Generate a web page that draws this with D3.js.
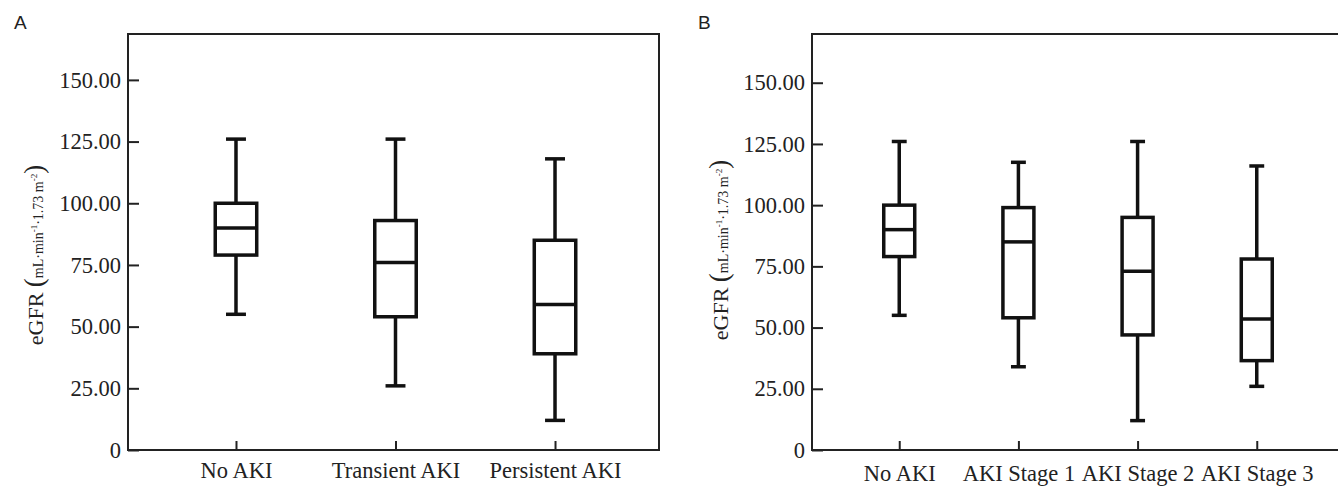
<!DOCTYPE html>
<html>
<head>
<meta charset="utf-8">
<script src="https://cdn.jsdelivr.net/npm/d3@7"></script>
<style>
  html, body { margin: 0; padding: 0; background: #fff; }
  svg { display: block; }
  .serif text, text.serif { font-family: "Liberation Serif", "Times New Roman", serif; }
</style>
</head>
<body>
<div id="chart"></div>
<script>
// eGFR box plots, panel A (AKI type) and panel B (AKI stage)
const yTicks = [0, 25, 50, 75, 100, 125, 150];

const catsA = ['No AKI', 'Transient AKI', 'Persistent AKI'];
const minA = [55, 26, 12];
const q1A = [79, 54, 39];
const medA = [90, 76, 59];
const q3A = [100, 93, 85];
const maxA = [126, 126, 118];

const catsB = ['No AKI', 'AKI Stage 1', 'AKI Stage 2', 'AKI Stage 3'];
const minB = [55, 34, 12, 26];
const q1B = [79, 54, 47, 36.5];
const medB = [90, 85, 73, 53.5];
const q3B = [100, 99, 95, 78];
const maxB = [126, 117.5, 126, 116];

const width = 1338, height = 486;
const serif = '"Liberation Serif", "Times New Roman", serif';

const svg = d3.select('#chart').append('svg')
  .attr('width', width)
  .attr('height', height);

function drawPanel(opt) {
  const g = svg.append('g').attr('class', 'serif');
  const y = d3.scaleLinear().domain([0, opt.yMax]).range([450, 34]);
  const x = d3.scalePoint().domain(opt.cats)
    .range([opt.left, opt.xEnd]).padding(opt.pad);
  const step = x.step();
  const boxW = step * 0.26, capW = step * 0.125;

  // frame
  g.append('path')
    .attr('d', `M${opt.right},${y(0)}H${opt.left}V34H${opt.right}` + (opt.closeRight ? 'Z' : ''))
    .attr('fill', 'none')
    .attr('stroke', '#222')
    .attr('stroke-width', 2);

  // y axis, ticks pointing inward
  const yAxis = g.append('g')
    .attr('transform', `translate(${opt.left},0)`)
    .call(d3.axisLeft(y).tickValues(yTicks).tickSize(-11).tickSizeOuter(0).tickPadding(7)
      .tickFormat(d => d === 0 ? '0' : d3.format('.2f')(d)))
    .attr('font-family', serif);
  yAxis.select('.domain').remove();
  yAxis.selectAll('line').attr('stroke', '#222').attr('stroke-width', 2);
  yAxis.selectAll('text').style('font-family', serif).attr('font-size', 22.5).attr('fill', '#222');

  // x axis
  const xAxis = g.append('g')
    .attr('transform', `translate(0,${y(0)})`)
    .call(d3.axisBottom(x).tickSize(-9).tickSizeOuter(0).tickPadding(opt.xPad))
    .attr('font-family', serif);
  xAxis.select('.domain').remove();
  xAxis.selectAll('line').attr('stroke', '#222').attr('stroke-width', 2);
  xAxis.selectAll('text').style('font-family', serif).attr('font-size', 22.5).attr('fill', '#222');

  // boxes
  const rows = opt.cats.map((c, i) => ({
    cat: c, min: opt.min[i], q1: opt.q1[i], med: opt.med[i], q3: opt.q3[i], max: opt.max[i]
  }));
  const box = g.selectAll('.box').data(rows).enter().append('g')
    .attr('class', 'box')
    .attr('fill', 'none')
    .attr('stroke', '#111')
    .attr('stroke-width', 3.5);

  box.append('line') // upper whisker
    .attr('x1', d => x(d.cat)).attr('x2', d => x(d.cat))
    .attr('y1', d => y(d.max)).attr('y2', d => y(d.q3));
  box.append('line') // lower whisker
    .attr('x1', d => x(d.cat)).attr('x2', d => x(d.cat))
    .attr('y1', d => y(d.q1)).attr('y2', d => y(d.min));
  box.append('line')
    .attr('x1', d => x(d.cat) - capW / 2).attr('x2', d => x(d.cat) + capW / 2)
    .attr('y1', d => y(d.max)).attr('y2', d => y(d.max));
  box.append('line')
    .attr('x1', d => x(d.cat) - capW / 2).attr('x2', d => x(d.cat) + capW / 2)
    .attr('y1', d => y(d.min)).attr('y2', d => y(d.min));
  box.append('rect')
    .attr('x', d => x(d.cat) - boxW / 2)
    .attr('width', boxW)
    .attr('y', d => y(d.q3))
    .attr('height', d => y(d.q1) - y(d.q3))
    .attr('fill', '#fff');
  box.append('line')
    .attr('x1', d => x(d.cat) - boxW / 2).attr('x2', d => x(d.cat) + boxW / 2)
    .attr('y1', d => y(d.med)).attr('y2', d => y(d.med));

  // y title
  const t = g.append('text')
    .attr('transform', `translate(${opt.titleX},${opt.titleY}) rotate(-90)`)
    .attr('text-anchor', 'middle')
    .style('font-family', serif)
    .attr('fill', '#222');
  t.append('tspan').attr('font-size', 22).text('eGFR ');
  t.append('tspan').attr('font-size', 27).text('(');
  t.append('tspan').attr('font-size', 14).text('mL·min');
  t.append('tspan').attr('font-size', 9).attr('dy', -6).text('-1');
  t.append('tspan').attr('font-size', 14).attr('dy', 6).text('·1.73 m');
  t.append('tspan').attr('font-size', 9).attr('dy', -6).text('-2');
  t.append('tspan').attr('font-size', 27).attr('dy', 6).text(')');

  // panel letter
  g.append('text')
    .attr('x', opt.letterX).attr('y', 29)
    .style('font-family', '"Liberation Sans", Arial, sans-serif')
    .attr('font-size', 19)
    .attr('fill', '#222')
    .text(opt.letter);
}

drawPanel({
  letter: 'A', letterX: 14,
  cats: catsA, min: minA, q1: q1A, med: medA, q3: q3A, max: maxA,
  yMax: 168.6, left: 128, right: 659, xEnd: 663, pad: 0.677, closeRight: true,
  xPad: 12, titleX: 43, titleY: 255
});

drawPanel({
  letter: 'B', letterX: 698,
  cats: catsB, min: minB, q1: q1B, med: medB, q3: q3B, max: maxB,
  yMax: 169.9, left: 812, right: 1344, xEnd: 1344, pad: 0.732, closeRight: false,
  xPad: 15, titleX: 728, titleY: 250
});
</script>
</body>
</html>
